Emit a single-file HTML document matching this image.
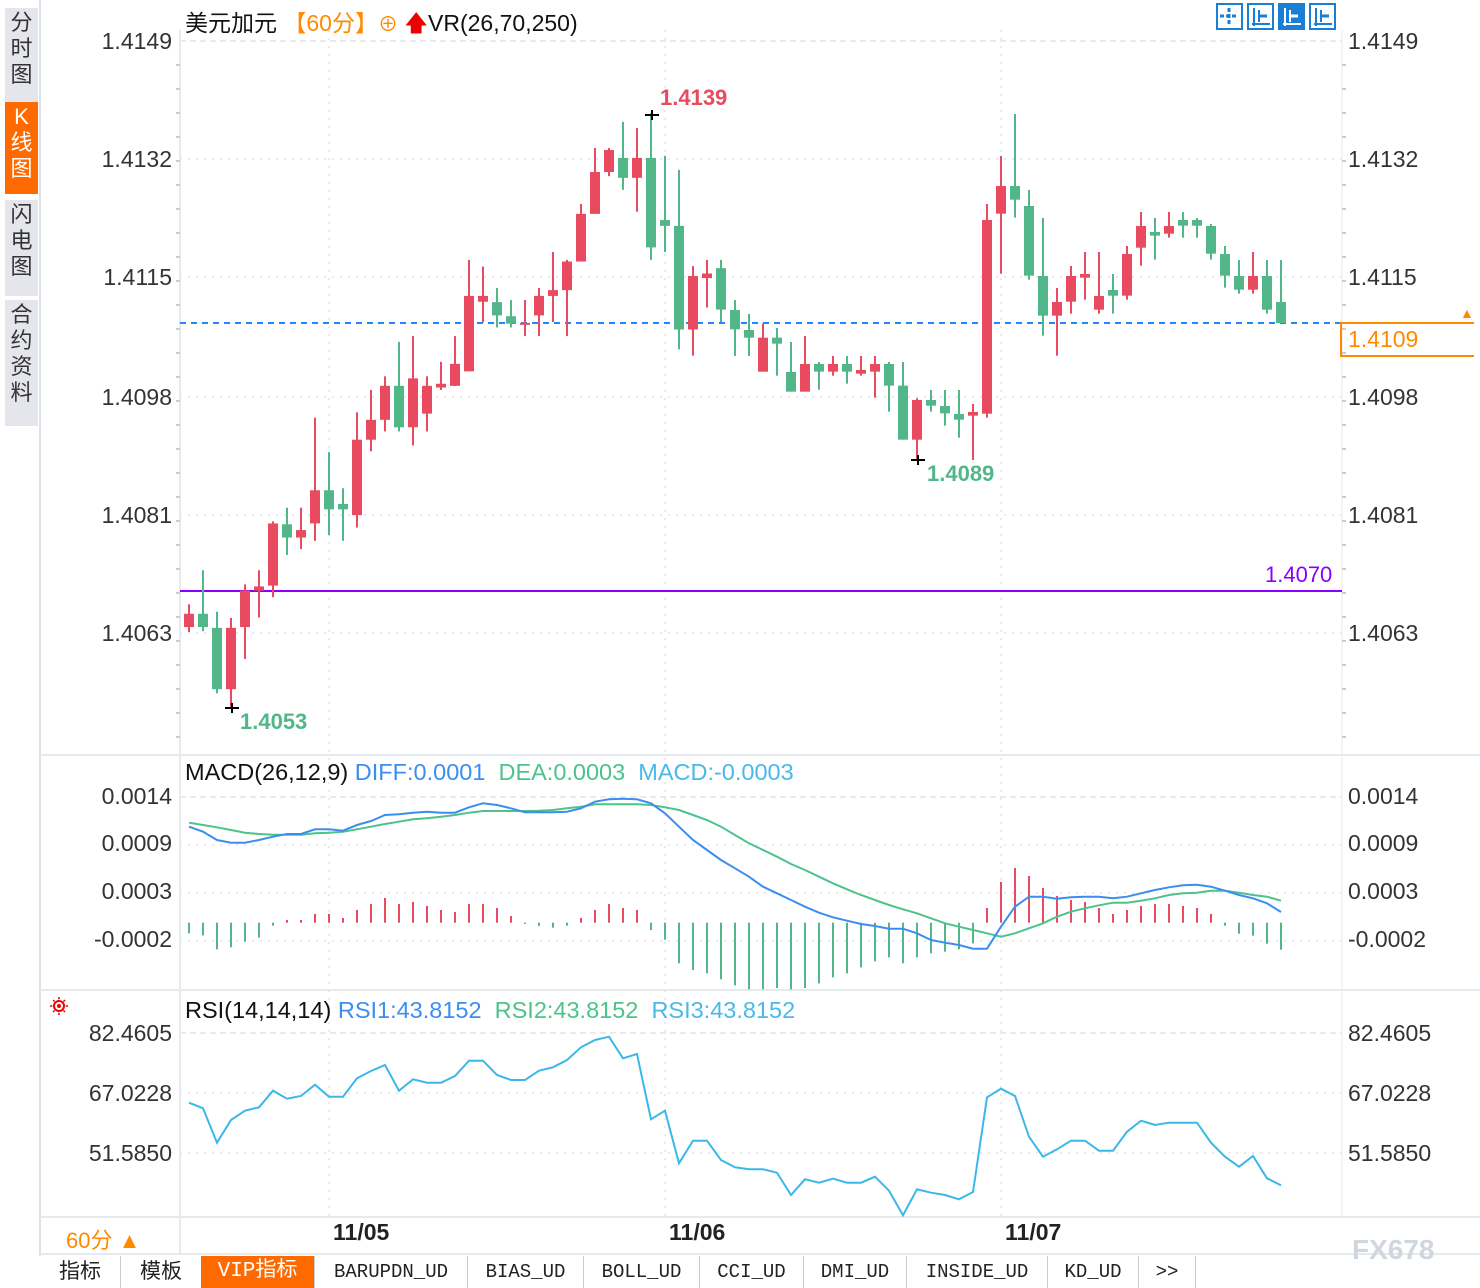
<!DOCTYPE html>
<html><head><meta charset="utf-8">
<style>
body{margin:0;background:#fff;width:1480px;height:1288px;overflow:hidden;position:relative;font-family:"Liberation Sans","Noto Sans CJK SC",sans-serif}
.a{position:absolute;white-space:nowrap}
.side{position:absolute;left:5px;width:33px;background:#e4e6ec;color:#333;font-size:22px;line-height:26px;text-align:center}
.tab{position:absolute;top:1256px;height:32px;line-height:32px;font-size:19px;color:#222;border-right:1px solid #ccc;text-align:center;font-family:"Liberation Mono","Noto Sans CJK SC",monospace}
</style></head><body>
<div class="side" style="top:8px;height:92px;padding-top:2px">分<br>时<br>图</div>
<div class="side" style="top:102px;height:90px;background:#ff6a00;color:#fff;padding-top:2px">K<br>线<br>图</div>
<div class="side" style="top:200px;height:94px;padding-top:2px">闪<br>电<br>图</div>
<div class="side" style="top:300px;height:124px;padding-top:2px">合<br>约<br>资<br>料</div>
<svg id="s" width="1480" height="1288" style="position:absolute;left:0;top:0"></svg>
<div class="a" style="left:185px;top:4px;font-size:23px;color:#111">美元加元 <span style="color:#ff8a00">【60分】</span><span style="color:#ff8a00;font-size:20px">⊕</span> <span style="color:#e00">🡅</span>VR(26,70,250)</div>
<div class="a" style="left:185px;top:759px;font-size:23.5px;color:#111">MACD(26,12,9) <span style="color:#3b8ef0">DIFF:0.0001</span>&nbsp; <span style="color:#4cc38a">DEA:0.0003</span>&nbsp; <span style="color:#4ab8e8">MACD:-0.0003</span></div>
<div class="a" style="left:185px;top:997px;font-size:23.5px;color:#111">RSI(14,14,14) <span style="color:#3b8ef0">RSI1:43.8152</span>&nbsp; <span style="color:#4cc38a">RSI2:43.8152</span>&nbsp; <span style="color:#4ab8e8">RSI3:43.8152</span></div>
<div class="a" style="left:660px;top:85px;font-size:22px;color:#e84a5f;font-weight:bold">1.4139</div>
<div class="a" style="left:240px;top:709px;font-size:22px;color:#52b788;font-weight:bold">1.4053</div>
<div class="a" style="left:927px;top:461px;font-size:22px;color:#52b788;font-weight:bold">1.4089</div>
<div class="a" style="left:1265px;top:562px;font-size:22px;color:#8a00ff">1.4070</div>
<div class="a" style="left:1340px;top:322px;width:134px;height:35px;border:2px solid #ff8a00;border-right:none;box-sizing:border-box"></div>
<div class="a" style="left:1348px;top:326px;font-size:23px;color:#ff8a00">1.4109</div>
<div class="a" style="left:1460px;top:305px;font-size:14px;color:#ff8a00">▲</div>
<div class="a" style="left:66px;top:1223px;font-size:22px;color:#ff8a00">60分 ▲</div>
<div class="a" style="left:333px;top:1219px;font-size:23px;color:#222;font-weight:bold">11/05</div>
<div class="a" style="left:669px;top:1219px;font-size:23px;color:#222;font-weight:bold">11/06</div>
<div class="a" style="left:1005px;top:1219px;font-size:23px;color:#222;font-weight:bold">11/07</div>
<div class="a" style="left:1352px;top:1234px;font-size:28px;color:#d0d6de;font-weight:bold">FX678</div>
<div class="tab" style="left:40px;width:80px;font-family:'Liberation Sans','Noto Sans CJK SC',sans-serif;font-size:21px">指标</div>
<div class="tab" style="left:121px;width:80px;font-family:'Liberation Sans','Noto Sans CJK SC',sans-serif;font-size:21px">模板</div>
<div class="tab" style="left:201px;width:113px;background:#ff6a00;color:#fff;font-size:21px">VIP指标</div>
<div class="tab" style="left:315px;width:152px">BARUPDN_UD</div>
<div class="tab" style="left:468px;width:115px">BIAS_UD</div>
<div class="tab" style="left:584px;width:115px">BOLL_UD</div>
<div class="tab" style="left:700px;width:103px">CCI_UD</div>
<div class="tab" style="left:804px;width:102px">DMI_UD</div>
<div class="tab" style="left:907px;width:140px">INSIDE_UD</div>
<div class="tab" style="left:1048px;width:90px">KD_UD</div>
<div class="tab" style="left:1139px;width:56px">&gt;&gt;</div>
<script>
var S=document.getElementById('s'),h='';
function L(x1,y1,x2,y2,c,w,d){h+='<line x1="'+x1+'" y1="'+y1+'" x2="'+x2+'" y2="'+y2+'" stroke="'+c+'" stroke-width="'+(w||1)+'"'+(d?' stroke-dasharray="'+d+'"':'')+'/>';}
function T(x,y,t,a,c){h+='<text x="'+x+'" y="'+y+'" font-size="23" fill="'+(c||'#333')+'" text-anchor="'+(a||'start')+'" font-family="Liberation Sans">'+t+'</text>';}
L(40,0,40,1256,'#dde3ea',2);L(180,30,180,1217,'#e6e9ee',2);L(1342,30,1342,1217,'#e6e9ee',1);
L(40,755,1480,755,'#e6e9ee',2);L(40,990,1480,990,'#e6e9ee',2);L(40,1217,1480,1217,'#e6e9ee',2);L(40,1254,1480,1254,'#e6e9ee',2);
L(180,1217,180,1254,'#e6e9ee',2);
[41,159,277,397,515,633].forEach(function(y,i){L(180,y,1342,y,'#e8eaee',2,i?'2,6':'6,4');});
[797,845,893,941].forEach(function(y,i){L(180,y,1342,y,'#e8eaee',2,i?'2,6':'6,4');});
[1033,1093,1153].forEach(function(y,i){L(180,y,1342,y,'#e8eaee',2,i?'2,6':'6,4');});
[329,665,1001].forEach(function(x){L(x,30,x,1217,'#e8eaee',2,'2,6');});
for(var y=65;y<740;y+=24){L(176,y,180,y,'#ccc',2);L(1342,y,1346,y,'#ccc',2);}
var pl=[['1.4149',41],['1.4132',159],['1.4115',277],['1.4098',397],['1.4081',515],['1.4063',633]];
pl.forEach(function(p){T(172,p[1]+8,p[0],'end');T(1348,p[1]+8,p[0]);});
[['0.0014',796],['0.0009',843],['0.0003',891],['-0.0002',939]].forEach(function(p){T(172,p[1]+8,p[0],'end');T(1348,p[1]+8,p[0]);});
[['82.4605',1033],['67.0228',1093],['51.5850',1153]].forEach(function(p){T(172,p[1]+8,p[0],'end');T(1348,p[1]+8,p[0]);});
L(180,591,1342,591,'#8a00ff',2);L(180,323,1476,323,'#1e88ff',2,'6,5');
var R='#e84a5f',G='#52b788';
var c1=[[R,1288,1320,1265,1332],[G,1288,1320,1183,1330],[G,1322,1470,1283,1480],[R,1322,1470,1298,1515],[R,1232,1320,1217,1397],[R,1222,1232,1183,1297],[R,1070,1220,1065,1248],[G,1072,1104,1032,1146],[R,1086,1104,1032,1132],[R,990,1070,815,1112],[G,990,1036,898,1098],[G,1023,1036,985,1112],[R,868,1050,802,1080],[R,820,868,748,896],[R,738,820,715,848],[G,738,838,632,848],[R,720,838,618,882],[R,738,805,715,848],[R,733,742,680,748],[R,685,738,618,738],[R,521,703,434,703],[R,521,535,450,585],[G,536,568,502,597],[G,570,588,531,597],[R,586,590,531,618],[R,521,568,502,618],[R,507,521,415,584],[R,438,507,434,618],[R,323,438,299,438],[R,222,323,164,323],[R,169,222,164,232],[G,188,236,101,265],[R,188,236,116,318],[G,188,404,80,434],[G,338,352,183,415],[G,352,602,217,650],[R,473,602,449,665],[R,467,478,434,549],[G,454,554,434,584]];
var c2=[[G,690,748,660,828],[G,750,773,702,828],[R,773,875,730,875],[G,773,791,744,887],[G,876,935,786,935],[R,852,935,768,935],[G,852,875,846,929],[R,852,875,828,887],[G,852,875,828,911],[R,870,881,828,887],[R,852,875,828,953],[G,852,917,846,995],[G,917,1079,846,1079],[R,960,1079,955,1140],[G,960,977,930,995],[G,978,1000,930,1037],[G,1002,1019,930,1073],[R,996,1007,972,1140],[R,420,1001,372,1013],[R,318,401,228,581],[G,318,359,102,413],[G,378,587,330,599],[G,588,707,414,767],[R,666,707,624,827],[R,588,665,558,701],[R,582,593,516,659],[R,648,689,516,701],[G,630,647,582,701],[R,522,647,498,659],[R,438,503,396,557],[G,456,467,414,539],[R,438,461,396,473],[G,420,437,396,473],[G,420,437,414,473],[G,438,521,432,539],[G,522,587,498,623],[G,588,629,540,641],[R,588,629,516,641],[G,588,689,540,701],[G,666,729,540,729]];
var C=[];c1.forEach(function(c){C.push([c[0],80+c[1]/2.413,80+c[2]/2.413,80+c[3]/2.413,80+c[4]/2.413]);});
c2.forEach(function(c){C.push([c[0],80+c[1]/3,80+c[2]/3,80+c[3]/3,80+c[4]/3]);});
C.forEach(function(c,i){var x=189+14*i;L(x,c[3],x,c[4],c[0],2);var b=Math.max(c[2]-c[1],2);h+='<rect x="'+(x-5)+'" y="'+c[1]+'" width="10" height="'+b+'" fill="'+c[0]+'"/>';});
L(645,115,659,115,'#000',2);L(652,110,652,120,'#000',2);
L(225,708,239,708,'#000',2);L(232,703,232,713,'#000',2);
L(911,460,925,460,'#000',2);L(918,455,918,465,'#000',2);
var hb=[520,526,568,562,545,533,497,480,480,462,462,474,450,432,414,432,426,438,450,456,432,432,444,468,492,498,503,497,474,450,432,444,450,510,539,610,630,640,658,676,688,688,684,688,684,670,652,640,622,604,592,610,592,580,575,568,550,444,366,324,348,384,408,420,426,444,462,450,438,432,432,438,444,462,497,521,527,551,569];
var z=760+488/3;
hb.forEach(function(v,i){var x=189+14*i,y=760+v/3;L(x,z,x,y,v<488?R:G,2);});
var df=[200,215,240,248,248,240,230,222,222,208,208,212,195,183,165,163,158,155,158,158,142,130,135,145,157,157,157,155,145,125,118,116,118,130,160,200,240,270,300,325,350,380,400,420,440,458,472,482,492,498,506,506,520,540,548,555,566,566,500,440,410,410,416,412,410,410,415,410,400,390,382,376,374,380,392,405,415,430,456];
var de=[188,195,202,210,218,222,224,224,224,220,218,215,208,200,192,185,178,175,170,165,158,153,153,153,153,152,150,145,140,133,133,133,133,135,142,150,165,180,200,225,250,270,290,312,330,350,370,388,405,420,435,448,460,475,490,500,510,520,530,520,505,490,470,455,445,436,428,428,422,415,405,400,398,392,392,398,405,410,422];
function P(a,f,c){var p=a.map(function(v,i){return (189+14*i)+','+f(v).toFixed(1)}).join(' ');h+='<polyline points="'+p+'" fill="none" stroke="'+c+'" stroke-width="2"/>';}
P(de,function(v){return 760+v/3},'#4cc38a');P(df,function(v){return 760+v/3},'#3b8ef0');
var rs=[338,355,458,390,362,352,302,326,318,284,320,320,265,243,225,302,268,278,278,258,212,212,255,270,270,242,232,210,172,150,140,205,192,388,362,520,452,452,510,532,538,538,548,615,568,578,566,578,578,560,602,676,598,608,615,628,606,322,296,318,440,500,478,452,452,482,482,425,392,405,398,398,398,458,500,530,498,565,586];
P(rs,function(v){return 990+v/3},'#3bb8e8');
h+='<circle cx="59" cy="1006" r="5" fill="none" stroke="#e00" stroke-width="2"/><circle cx="59" cy="1006" r="2" fill="#e00"/>';
[[0,-9],[0,9],[-9,0],[9,0],[-6,-6],[6,6],[-6,6],[6,-6]].forEach(function(d){L(59+d[0]*0.75,1006+d[1]*0.75,59+d[0],1006+d[1],'#e00',1.5);});
[1216,1247,1278,1309].forEach(function(x,i){h+='<rect x="'+(x+1)+'" y="4" width="25" height="25" fill="'+(i==2?'#1a7fd4':'#fff')+'" stroke="#1a7fd4" stroke-width="2"/>';var c=i==2?'#fff':'#1a7fd4';
if(i==0){L(x+13,8,x+13,26,c,3,'4,2');L(x+4,16,x+22,16,c,3,'4,2');}else{L(x+7,8,x+7,26,c,2);L(x+5,24,x+23,24,c,2);L(x+12,10,x+12,22,c,2);L(x+12,16,x+20,16,c,3);}});
S.innerHTML=h;
</script>
</body></html>
